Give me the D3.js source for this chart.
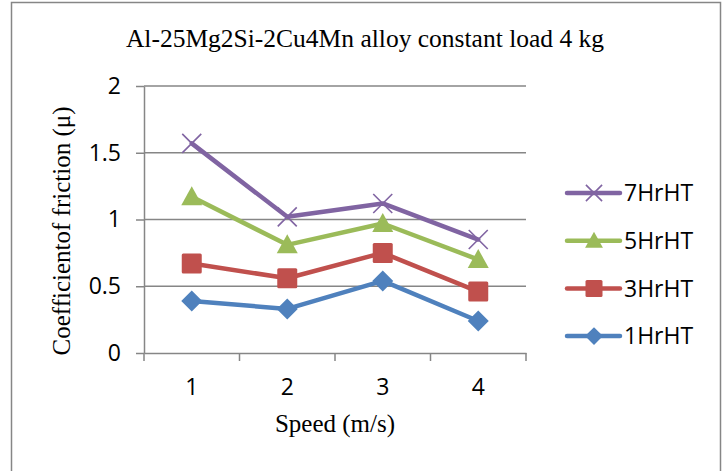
<!DOCTYPE html>
<html>
<head>
<meta charset="UTF-8">
<script src="https://d3js.org/d3.v7.min.js"></script>
<title>Coefficient of friction</title>
<style>
body { margin: 0; background: #fff; }
</style>
</head>
<body>
<script>
// data
var speeds = ["1", "2", "3", "4"];
var yTicks = [0, 0.5, 1, 1.5, 2];
var seriesNames = ["7HrHT", "5HrHT", "3HrHT", "1HrHT"];
var hr7 = [1.57, 1.02, 1.12, 0.85];
var hr5 = [1.17, 0.81, 0.97, 0.70];
var hr3 = [0.67, 0.56, 0.75, 0.46];
var hr1 = [0.39, 0.33, 0.54, 0.24];

var colors = {"7HrHT": "#8064A2", "5HrHT": "#9BBB59", "3HrHT": "#C0504D", "1HrHT": "#4F81BD"};
var values = {"7HrHT": hr7, "5HrHT": hr5, "3HrHT": hr3, "1HrHT": hr1};

var W = 727, H = 471;
var plot = {left: 144, right: 526, top: 86, bottom: 353};
var sans = "'Open Sans', 'Liberation Sans', sans-serif";
var serif = "'Liberation Serif', 'Times New Roman', serif";

var svg = d3.select("body").append("svg")
    .attr("width", W)
    .attr("height", H);

// outer frame (bottom edge runs past the picture)
svg.append("rect")
    .attr("x", 11.5).attr("y", 2.5)
    .attr("width", 709).attr("height", 480)
    .attr("fill", "#fff")
    .attr("stroke", "#868686")
    .attr("stroke-width", 1.5);

var x = d3.scaleBand().domain(speeds).range([plot.left, plot.right]);
var y = d3.scaleLinear().domain([0, 2]).range([plot.bottom, plot.top]);

// gridlines
svg.append("g")
    .selectAll("line")
    .data(yTicks.slice(1))
    .enter().append("line")
    .attr("x1", plot.left).attr("x2", plot.right)
    .attr("y1", function(d) { return y(d); })
    .attr("y2", function(d) { return y(d); })
    .attr("stroke", "#868686")
    .attr("stroke-width", 1.5);

// y axis
var yAxis = svg.append("g")
    .attr("transform", "translate(" + plot.left + ",0)")
    .call(d3.axisLeft(y).tickValues(yTicks).tickSize(8).tickSizeOuter(0).tickPadding(15).tickFormat(d3.format("")));
yAxis.select(".domain").attr("stroke", "#868686").attr("stroke-width", 1.5);
yAxis.selectAll(".tick line").attr("stroke", "#868686").attr("stroke-width", 1.5);
yAxis.selectAll("text")
    .attr("font-family", sans)
    .attr("font-size", 23).attr("fill", "#000");

// x axis
var xAxis = svg.append("g")
    .attr("transform", "translate(0," + plot.bottom + ")")
    .call(d3.axisBottom(x).tickSize(0).tickSizeOuter(0).tickPadding(26));
xAxis.select(".domain").attr("stroke", "#868686").attr("stroke-width", 1.5);
xAxis.selectAll("text")
    .attr("font-family", sans)
    .attr("font-size", 23).attr("fill", "#000");
// category boundary ticks
var bounds = speeds.map(function(s) { return x(s); }).concat([x(speeds[speeds.length - 1]) + x.bandwidth()]);
xAxis.selectAll(".bound")
    .data(bounds)
    .enter().append("line")
    .attr("x1", function(d) { return d; }).attr("x2", function(d) { return d; })
    .attr("y1", 0).attr("y2", 8)
    .attr("stroke", "#868686").attr("stroke-width", 1.5);

function cx(i) { return x(speeds[i]) + x.bandwidth() / 2; }

function drawMarker(g, name, px, py, scale) {
    var c = colors[name];
    var s = scale || 1;
    if (name === "7HrHT") {
        var r = 9.5 * s;
        g.append("path")
            .attr("d", "M" + (px - r) + "," + (py - r) + "L" + (px + r) + "," + (py + r) +
                       "M" + (px - r) + "," + (py + r) + "L" + (px + r) + "," + (py - r))
            .attr("stroke", c).attr("stroke-width", 1.6).attr("fill", "none");
    } else if (name === "5HrHT") {
        var t = 10.5 * s;
        g.append("path")
            .attr("d", "M" + px + "," + (py - t) + "L" + (px + t) + "," + (py + t * 0.8) + "L" + (px - t) + "," + (py + t * 0.8) + "Z")
            .attr("fill", c);
    } else if (name === "3HrHT") {
        var q = 10 * s;
        g.append("rect")
            .attr("x", px - q).attr("y", py - q)
            .attr("width", 2 * q).attr("height", 2 * q)
            .attr("rx", 1.5)
            .attr("fill", c);
    } else {
        var d = 10.5 * s;
        g.append("path")
            .attr("d", "M" + px + "," + (py - d) + "L" + (px + d) + "," + py + "L" + px + "," + (py + d) + "L" + (px - d) + "," + py + "Z")
            .attr("fill", c);
    }
}

var line = d3.line()
    .x(function(d, i) { return cx(i); })
    .y(function(d) { return y(d); });

// draw from bottom series up so upper lines sit on top
var drawOrder = seriesNames.slice().reverse();
drawOrder.forEach(function(name) {
    var g = svg.append("g");
    g.append("path")
        .datum(values[name])
        .attr("d", line)
        .attr("fill", "none")
        .attr("stroke", colors[name])
        .attr("stroke-width", 4.5)
        .attr("stroke-linejoin", "round")
        .attr("stroke-linecap", "round");
    values[name].forEach(function(v, i) {
        drawMarker(g, name, cx(i), y(v));
    });
});

// legend
var legend = svg.append("g");
seriesNames.forEach(function(name, i) {
    var ly = 193 + i * 47.7;
    var g = legend.append("g");
    g.append("line")
        .attr("x1", 567).attr("x2", 620)
        .attr("y1", ly).attr("y2", ly)
        .attr("stroke", colors[name]).attr("stroke-width", 4.5)
        .attr("stroke-linecap", "round");
    drawMarker(g, name, 594, ly, 0.85);
    g.append("text")
        .attr("x", 624).attr("y", ly)
        .attr("dy", "0.36em")
        .attr("font-family", sans)
        .attr("font-size", 23)
        .text(name);
});

// title
svg.append("text")
    .attr("x", 365).attr("y", 47)
    .attr("text-anchor", "middle")
    .attr("font-family", serif)
    .attr("font-size", 25.5)
    .text("Al-25Mg2Si-2Cu4Mn alloy constant load 4 kg");

// axis titles
svg.append("text")
    .attr("transform", "translate(70,231) rotate(-90)")
    .attr("text-anchor", "middle")
    .attr("font-family", serif)
    .attr("font-size", 25)
    .text("Coefficientof friction (\u03bc)");

svg.append("text")
    .attr("x", 335).attr("y", 432)
    .attr("text-anchor", "middle")
    .attr("font-family", serif)
    .attr("font-size", 25)
    .text("Speed (m/s)");
</script>
</body>
</html>
